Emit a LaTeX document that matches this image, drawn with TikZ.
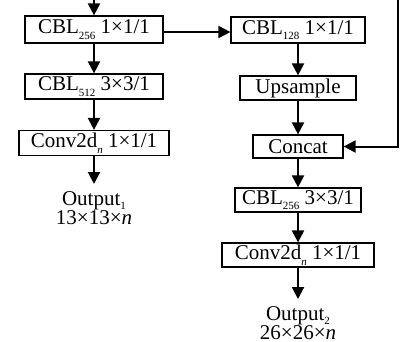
\documentclass[tikz,border=0pt]{standalone}
\usepackage{fontspec}
\setmainfont{Liberation Serif}
\usetikzlibrary{arrows.meta}
\newcommand{\sbx}[1]{\raisebox{-5.5pt}{\fontsize{11}{11}\selectfont #1}}
\newcommand{\sbo}[1]{\raisebox{-4pt}{\fontsize{11}{11}\selectfont #1}}
\begin{document}
\begin{tikzpicture}[x=1pt,y=-1pt,
  blk/.style={draw, line width=1.2pt, inner sep=0pt, minimum height=25pt, font=\fontsize{21}{22}\selectfont},
  arr/.style={line width=2pt, -{Triangle[width=12pt,length=12pt]}},
  outtxt/.style={align=center, inner sep=0pt, anchor=north, font=\fontsize{21}{19.5}\selectfont}]
\useasboundingbox (0,0) rectangle (401,341);
% left column
\coordinate (topL) at (94,0);
\node[blk, minimum width=138pt, minimum height=27pt] (a1) at (94,29.5) {CBL\sbx{256} 1×1/1};
\node[blk, minimum width=138pt] (a2) at (94,86.5) {CBL\sbx{512} 3×3/1};
\node[blk, minimum width=150pt] (a3) at (94,143) {Conv2d\sbx{\itshape n} 1×1/1};
\node[outtxt] (o1) at (94,191) {Output\sbo{1}\\13×13×\textit{n}};
% right column
\node[blk, minimum width=134pt, minimum height=26pt] (b1) at (298,30) {CBL\sbx{128} 1×1/1};
\node[blk, minimum width=116pt, minimum height=24pt] (b2) at (298,88) {Upsample};
\node[blk, minimum width=90pt, minimum height=23pt] (b3) at (298,146.5) {Concat};
\node[blk, minimum width=126pt, minimum height=24pt] (b4) at (298,200) {CBL\sbx{256} 3×3/1};
\node[blk, minimum width=152pt, minimum height=24pt] (b5) at (298,255) {Conv2d\sbx{\itshape n} 1×1/1};
\node[outtxt] (o2) at (298,306) {Output\sbo{2}\\26×26×\textit{n}};
\coordinate (topR) at (398,0);
% connectors
\draw[arr] (topL) -- (a1);
\draw[arr] (a1) -- (a2);
\draw[arr] (a2) -- (a3);
\draw[arr] (a3.south) -- ([yshift=7pt]o1.north);
\draw[arr] ([yshift=-2.5pt]a1.east) -- ([yshift=-2.5pt]a1.east -| b1.west);
\draw[arr] (b1) -- (b2);
\draw[arr] (b2) -- (b3);
\draw[arr] (b3) -- (b4);
\draw[arr] (b4) -- (b5);
\draw[arr] (b5.south) -- ([yshift=7pt]o2.north);
\draw[arr] (topR) |- (b3.east);
\end{tikzpicture}
\end{document}
